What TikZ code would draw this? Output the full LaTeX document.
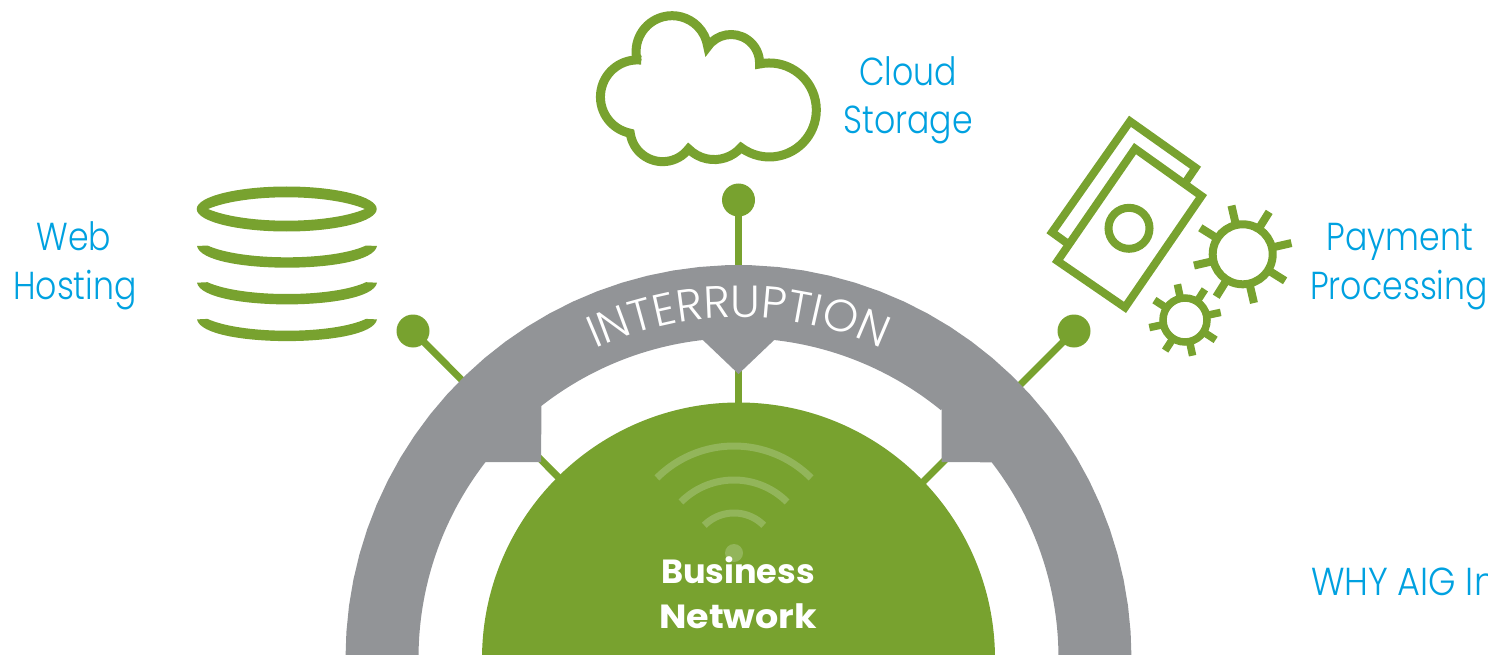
\documentclass[tikz,border=0pt]{standalone}
\usepackage{fontspec}
\usetikzlibrary{decorations.text}
\setmainfont{Poppins}[UprightFont=* Light,BoldFont=* Bold]
\newfontfamily\boldf{Poppins Bold}
\newfontfamily\boldwidef{Poppins Bold}[FakeStretch=1.09]
\newfontfamily\labf{Poppins Light}[FakeStretch=0.85]
\newfontfamily\labwidef{Poppins Light}[FakeStretch=0.9]
\definecolor{leaf}{HTML}{78A22F}
\definecolor{leaflight}{HTML}{92B55A}
\definecolor{ringgrey}{HTML}{929497}
\definecolor{labelblue}{HTML}{00A1E0}
\newcommand\arcpts[5]{plot[domain=#4:#5,samples=48] ({#1+#3*cos(\x)},{#2-#3*sin(\x)})}
\newcommand\arcline[5]{-- plot[domain=#4:#5,samples=48] ({#1+#3*cos(\x)},{#2-#3*sin(\x)})}
\tikzset{
  lab/.style={text=labelblue,anchor=base,inner sep=0pt,font=\labf\fontsize{39}{46}\selectfont},
  dotnode/.style={circle,fill=leaf,inner sep=0pt,minimum size=33},
  wire/.style={draw=leaf,line width=7},
  icon/.style={draw=leaf,line width=8,miter limit=10},
  wave/.style={draw=leaflight,line width=7},
  hubtext/.style={text=white,anchor=base,inner sep=0pt,font=\boldf\fontsize{33.5}{40}\selectfont}
}
\begin{document}
\begin{tikzpicture}[x=1pt,y=-1pt]
\useasboundingbox (0,0) rectangle (1488,655);
\clip (0,0) rectangle (1488,655);
% connector dots and hub reference
\node[dotnode] (webdot) at (413,331) {};
\node[dotnode] (clouddot) at (738.5,200) {};
\node[dotnode] (paydot) at (1074,331) {};
\coordinate (hubc) at (738.5,659);
\coordinate (hubl) at (580,499);
\coordinate (hubr) at (900,505);
\draw[wire] (webdot.center) -- (hubl);
\draw[wire] (clouddot.center) -- (hubc);
\draw[wire] (paydot.center) -- (hubr);
% ring
\fill[ringgrey] \arcpts{738.5}{658}{393}{180}{0}
  \arcline{738.5}{658}{320}{0}{37.7}
  -- (941.5,462) -- (941.5,409)
  \arcline{738.5}{658}{320}{50.8}{83.6}
  -- (738.5,374)
  \arcline{738.5}{658}{320}{96.4}{128}
  -- (541,462) -- (485,462)
  \arcline{738.5}{658}{320}{142.3}{180} -- cycle;
% hub
\node[circle,fill=leaf,inner sep=0pt,minimum size=513] (hub) at (hubc) {};
\draw[wave] \arcpts{734}{555}{109}{135}{45};
\draw[wave] \arcpts{734}{555}{75}{135}{45};
\draw[wave] \arcpts{734}{555}{42}{135}{45};
\node[circle,fill=leaflight,inner sep=0pt,minimum size=18] (wifidot) at (734,553) {};
\node[hubtext] (business) at (738,583) {Business};
\node[hubtext,font=\boldwidef\fontsize{33.5}{40}\selectfont] (network) at (738,628) {Network};
% curved label
\path[decorate,decoration={text along path,text align=center,
  text={|\color{white}\fontsize{45}{50}\selectfont|INTERRUPTION}}]
  \arcpts{738.5}{658}{341}{150}{30};
% labels
\node[lab] (web) at (74,251) {Web};
\node[lab] (hosting) at (75,299) {Hosting};
\node[lab] (cloud) at (908,86) {Cloud};
\node[lab] (storage) at (908,134) {Storage};
\node[lab] (payment) at (1400,251) {Payment};
\node[lab] (processing) at (1399,299) {Processing};
\node[lab,anchor=base west,font=\labwidef\fontsize{39}{46}\selectfont] (why) at (1311,595) {WHY AIG In};
% database
\fill[leaf,even odd rule] (286.7,209) ellipse [x radius=90,y radius=22.5]
  (208,209) .. controls (245,193.4) and (328,193.4) .. (365,209)
  .. controls (328,224.6) and (245,224.6) .. (208,209) -- cycle;
\foreach \d in {0,36.7,73.4}{
  \fill[leaf,shift={(0,\d)}] (197,246) .. controls (200,261) and (245,267.7) .. (287,267.7)
    .. controls (329,267.7) and (374,261) .. (377,246) -- (366,245.5)
    .. controls (350,253) and (320,257.3) .. (287,257.3)
    .. controls (254,257.3) and (224,253) .. (207.5,245.5) -- cycle;
}
% cloud
\draw[icon,line width=9]
  (637.3,61)
  arc[start angle=165,end angle=352,radius=36]
  arc[start angle=215,end angle=362,radius=28.5]
  arc[start angle=258,end angle=487,radius=47]
  arc[start angle=41.7,end angle=135.3,radius=36]
  arc[start angle=37.6,end angle=172.5,radius=32.7]
  arc[start angle=101.2,end angle=276,radius=37];
% money
\draw[icon] (1184.4,184) -- (1195.5,167.7) -- (1130,121.3) -- (1052,232.3) -- (1069,244.6);
\draw[icon] (1135,148.6) -- (1201.5,196) -- (1125,307.4) -- (1057.5,261) -- cycle;
\draw[icon] (1129,228.3) circle [radius=20.5];
% gears
\draw[icon] (1242.7,254.3) circle [radius=30];
\foreach \k in {0,...,7}{
  \pgfmathsetmacro\a{13+45*\k}
  \draw[icon] ({1242.7+32*cos(\a)},{254.3-32*sin(\a)}) -- ({1242.7+50*cos(\a)},{254.3-50*sin(\a)});
}
\draw[icon,line width=7.5] (1185,320) circle [radius=22];
\foreach \k in {0,...,7}{
  \pgfmathsetmacro\a{12+45*\k}
  \draw[icon,line width=7.5] ({1185+24*cos(\a)},{320-24*sin(\a)}) -- ({1185+36.5*cos(\a)},{320-36.5*sin(\a)});
}
\end{tikzpicture}
\end{document}
